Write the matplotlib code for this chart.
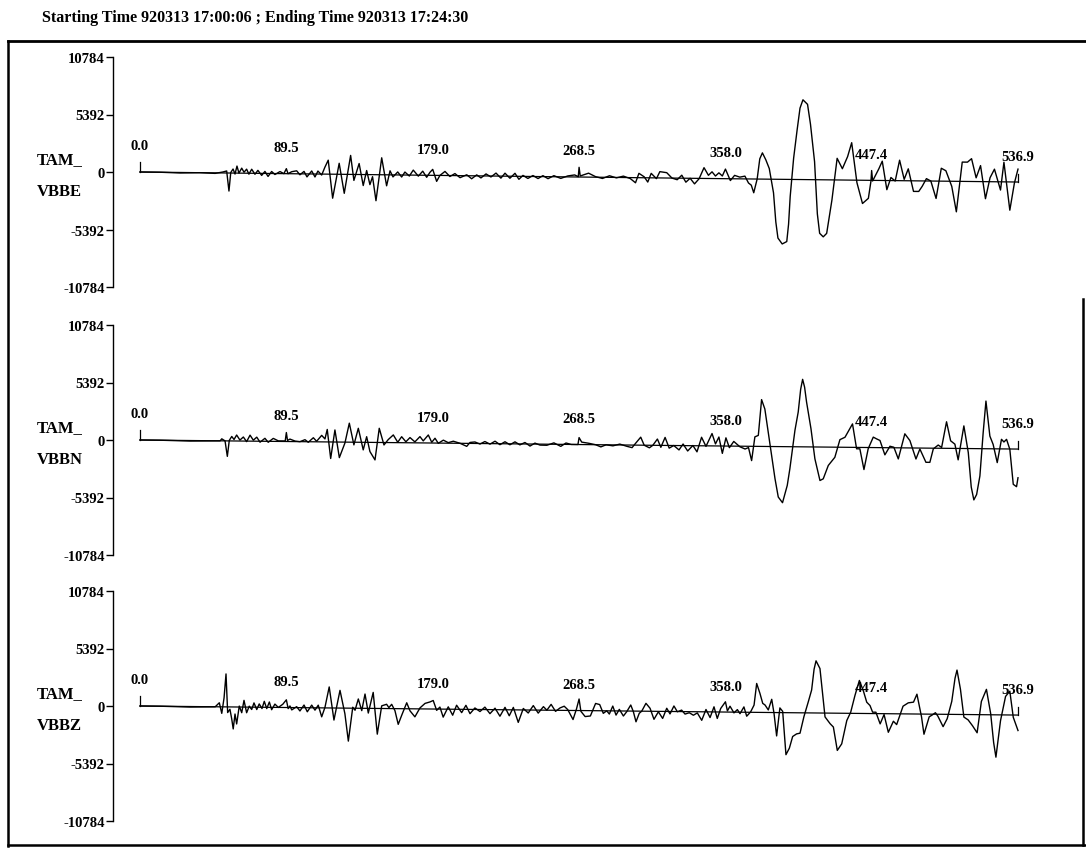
import matplotlib
matplotlib.use('Agg')
import matplotlib.pyplot as plt
from matplotlib.lines import Line2D
import numpy as np

plt.rcParams['font.family'] = ['Liberation Serif', 'DejaVu Serif']
plt.rcParams['font.weight'] = 'bold'

title = 'Starting Time 920313 17:00:06 ; Ending Time 920313 17:24:30'
stations = ['VBBE', 'VBBN', 'VBBZ']
full_scale = 10784
yticks = [-10784, -5392, 0, 5392, 10784]
time_marks = [0.0, 89.5, 179.0, 268.5, 358.0, 447.4, 536.9]
t_end = 536.9
# the pen baseline sags a little by the end of the record (counts)
baseline_drop = [940, 850, 850]

# (seconds, counts) picks along each trace
vbbe = [
    (0.0, 0), (12.2, 0), (24.5, -50), (36.7, 0), (45.9, -50), (50.7, 90),
    (53.0, 190), (54.4, -1690), (55.5, 50), (56.9, 380), (58.1, -90), (59.3, 660),
    (60.5, 0), (62.2, 470), (63.6, 90), (65.2, 380), (66.6, -90), (68.3, 380),
    (70.3, -90), (72.1, 280), (74.4, -190), (76.4, 190), (78.3, -280), (80.5, 190),
    (82.5, -90), (85.6, 190), (88.0, 0), (89.5, 470), (90.5, 0), (92.8, 190),
    (95.8, 280), (97.8, -90), (100.3, 230), (102.1, -280), (105.0, 280), (107.0, -280),
    (108.8, 280), (111.1, -90), (113.1, 660), (115.1, 1310), (117.8, -2250), (121.8, 1030),
    (124.9, -1780), (128.8, 1780), (130.8, -560), (134.0, 1030), (136.5, -1030), (138.6, 380),
    (140.6, -940), (142.2, -190), (144.3, -2440), (147.8, 1590), (150.8, -1030), (152.9, 380),
    (154.7, -190), (157.6, 280), (160.0, -190), (162.0, 280), (164.7, -90), (167.1, 470),
    (170.2, -90), (172.9, 380), (175.3, -190), (177.3, 280), (179.0, 560), (181.4, -560),
    (183.4, 0), (186.5, 380), (189.5, -90), (192.6, 190), (195.7, -190), (199.8, 90),
    (202.8, -280), (205.9, 90), (208.5, -190), (211.6, 190), (214.6, -90), (217.7, 280),
    (220.7, -190), (223.2, 280), (226.2, -190), (229.3, 280), (231.7, -280), (234.2, 90),
    (237.2, -190), (240.3, 90), (243.4, -190), (246.4, 90), (249.5, -190), (253.1, 100),
    (257.3, -150), (261.6, 90), (265.8, 190), (268.0, 30), (268.5, 910), (269.2, 100),
    (274.3, 370), (278.6, 50), (282.8, -110), (287.1, 150), (291.3, -40), (295.6, 130),
    (299.8, -90), (303.0, -480), (305.1, 410), (308.3, 90), (310.5, -400), (312.6, 420),
    (315.8, -70), (317.9, 590), (322.1, 500), (325.3, 0), (328.5, -150), (331.3, 280),
    (333.8, -370), (336.4, 0), (339.1, -520), (341.9, -30), (344.9, 1010), (347.6, 300),
    (349.8, 630), (351.9, 240), (354.0, 540), (356.1, 250), (358.0, 900), (361.0, -170),
    (363.6, 320), (366.8, 160), (369.9, 260), (372.1, -380), (373.8, -580), (375.3, -1290),
    (377.4, 10), (379.0, 1900), (380.6, 2460), (382.7, 1810), (384.8, 1000), (387.4, -1280),
    (388.8, -4000), (390.1, -5510), (392.7, -6060), (395.5, -5830), (396.6, -4200), (397.6, -1590),
    (399.7, 2000), (401.8, 4610), (403.6, 6700), (405.4, 7480), (408.2, 7060), (410.0, 5200),
    (412.5, 1690), (414.2, -3200), (415.6, -5020), (417.8, -5350), (419.9, -5020), (423.1, -1900),
    (426.3, 2030), (429.5, 1060), (432.7, 2200), (435.2, 3510), (438.4, -230), (441.8, -2180),
    (445.4, -1690), (447.0, -60), (447.4, 920), (448.0, -60), (451.8, 1090), (453.9, 1810),
    (456.7, -860), (459.2, 290), (461.8, -40), (464.5, 1920), (467.3, 130), (469.8, 1120),
    (473.0, -990), (476.2, -990), (478.3, -510), (480.9, 220), (483.6, 0), (486.8, -1630),
    (490.0, 1210), (492.8, 980), (496.4, -480), (499.2, -2860), (502.8, 1810), (506.0, 1810),
    (508.5, 2140), (511.3, 350), (514.0, 1500), (517.0, -1600), (519.8, 370), (522.5, 1180),
    (526.2, -770), (528.3, 1840), (531.9, -2650), (534.7, -100), (536.9, 1210),
]

vbbn = [
    (0.0, 0), (12.2, 0), (30.6, -50), (49.0, 0), (50.0, 190), (52.0, 0),
    (53.4, -1450), (54.6, 50), (56.1, 420), (57.5, 140), (59.1, 560), (61.1, 90),
    (63.2, 380), (65.2, -50), (67.3, 560), (69.3, 90), (71.4, 380), (73.4, -90),
    (76.4, 280), (78.4, -90), (81.5, 280), (84.6, 50), (88.8, 50), (89.5, 840),
    (90.2, 100), (91.7, 230), (94.8, 50), (97.8, 0), (100.9, 190), (102.9, -50),
    (106.0, 380), (108.0, 50), (111.1, 610), (113.1, 280), (114.5, 1170), (116.6, -1550),
    (119.2, 1130), (121.9, -1460), (125.3, -90), (128.0, 1780), (130.8, -250), (133.5, 1310),
    (136.5, -710), (138.6, 530), (140.6, -860), (143.7, -1640), (146.3, 1330), (149.2, -230),
    (151.8, 280), (154.9, 720), (157.6, 40), (160.0, 560), (162.6, 90), (165.1, 490),
    (168.1, 90), (171.2, 590), (173.2, 190), (176.3, 750), (178.4, 70), (180.4, 450),
    (182.4, -20), (185.5, 280), (188.5, 50), (191.6, 190), (195.7, 0), (199.8, -280),
    (201.8, 90), (204.8, 140), (207.9, -50), (210.9, 190), (214.0, -50), (217.1, 230),
    (220.1, -90), (223.2, 190), (226.2, -90), (229.3, 190), (232.3, -90), (235.4, 140),
    (238.5, -190), (241.5, 90), (244.6, -90), (248.8, -100), (253.1, 130), (257.3, -190),
    (260.5, 130), (263.7, 0), (267.8, 0), (268.5, 650), (270.1, 230), (274.3, 130),
    (278.6, 0), (281.8, -200), (285.0, 0), (289.2, -90), (293.4, 80), (297.7, -120),
    (300.9, -240), (303.0, 160), (306.2, 750), (308.3, 0), (311.5, -240), (313.6, 0),
    (316.4, 590), (318.5, -180), (321.1, 750), (323.6, -250), (326.4, 0), (329.6, -410),
    (332.1, 150), (334.9, -500), (338.1, 20), (340.6, -570), (343.4, 800), (346.1, -50),
    (349.8, 1160), (351.9, 190), (354.0, 840), (356.1, -690), (358.3, 770), (360.4, -150),
    (363.1, 440), (366.8, -50), (370.0, -260), (372.1, -120), (374.0, -1340), (376.0, 890),
    (378.1, 1030), (380.1, 4390), (382.1, 3510), (385.2, 270), (388.3, -3010), (390.3, -4730),
    (392.9, -5260), (395.8, -3630), (397.4, -2060), (400.5, 1540), (402.5, 3260), (404.0, 5400),
    (405.2, 6330), (406.4, 5600), (407.6, 4210), (410.3, 1710), (412.7, -1110), (415.8, -3140),
    (417.8, -2980), (420.9, -1720), (424.9, -950), (428.0, 710), (431.1, 940), (435.7, 2200),
    (438.2, -130), (440.2, -130), (442.7, -2070), (445.3, -110), (448.4, 980), (450.4, 820),
    (452.5, 670), (455.5, -670), (458.6, 140), (461.0, 50), (463.7, -1040), (467.7, 1320),
    (470.8, 690), (474.5, -1030), (476.9, -90), (480.6, -1330), (483.0, -1330), (485.1, -70),
    (488.1, 300), (490.2, 80), (493.2, 2490), (495.7, 710), (498.3, 400), (500.3, -1070),
    (503.8, 2120), (506.5, -380), (508.3, -3600), (509.9, -4810), (511.6, -4300), (513.6, -2560),
    (515.6, 1500), (517.3, 4470), (519.7, 1190), (521.7, 410), (524.2, -1290), (526.8, 900),
    (528.3, 650), (529.9, 900), (531.9, -30), (534.0, -3310), (536.0, -3530), (536.9, -2690),
]

vbbz = [
    (0.0, 0), (12.2, 0), (30.6, -50), (46.0, 0), (48.5, 380), (50.0, -610),
    (51.4, 840), (52.6, 3090), (53.6, -530), (55.0, -220), (56.1, -1130), (57.0, -2060),
    (58.1, -660), (59.1, -1590), (60.7, 90), (62.2, -530), (63.6, 630), (65.2, -530),
    (66.8, 90), (68.3, -220), (69.7, 400), (71.4, -220), (72.9, 310), (74.6, -120),
    (76.0, 560), (77.5, -120), (79.1, 500), (80.5, -220), (82.5, 310), (84.6, 0),
    (87.3, 300), (89.5, 720), (90.6, -100), (91.7, 150), (92.8, -220), (95.8, 90),
    (97.8, -310), (100.3, 250), (102.3, -380), (105.0, 250), (107.0, -220), (109.0, 250),
    (111.1, -840), (113.1, 50), (115.7, 1970), (118.6, -1130), (122.3, 1660), (125.3, -530),
    (127.4, -3090), (130.1, 90), (131.5, -190), (133.5, 870), (135.6, -220), (137.6, 1340),
    (139.6, -440), (142.6, 1500), (145.1, -2410), (147.8, 250), (150.8, 400), (152.2, 90),
    (153.9, 400), (155.9, -190), (157.9, -1470), (160.0, -630), (163.1, 560), (165.1, -190),
    (168.1, -750), (171.2, 90), (174.3, 520), (177.3, 660), (179.3, 800), (181.4, -120),
    (183.4, 190), (185.4, -750), (188.5, 220), (191.2, -560), (193.6, 380), (196.7, -310),
    (199.3, 380), (201.8, -400), (204.8, 140), (207.9, -190), (210.9, 230), (214.0, -380),
    (217.1, 140), (220.1, -610), (223.2, 230), (225.8, -560), (228.3, 230), (231.3, -1170),
    (234.4, 140), (237.4, -280), (240.5, 420), (243.5, -280), (246.7, 330), (248.8, 0),
    (251.4, 550), (254.1, -100), (256.9, 230), (259.4, 390), (261.6, 70), (264.8, -850),
    (266.9, 140), (268.5, 1080), (269.6, -70), (272.2, -560), (275.4, -500), (278.6, 680),
    (281.1, 580), (283.3, -240), (285.4, 0), (287.0, -300), (289.1, 450), (291.1, -390),
    (293.1, 150), (295.6, -470), (297.6, -70), (300.1, 570), (301.7, -60), (303.3, -1000),
    (305.3, -200), (306.8, 0), (309.4, 740), (311.9, 280), (314.3, -750), (317.0, -40),
    (319.6, -660), (322.1, 300), (324.1, -230), (326.5, 520), (328.6, -20), (331.2, 140),
    (333.3, -230), (335.9, -100), (338.4, -330), (340.8, -110), (343.5, -800), (346.1, 220),
    (348.6, -530), (351.0, 480), (353.0, -610), (355.1, 330), (358.0, 960), (359.2, 110),
    (360.8, 550), (363.2, -70), (365.3, 240), (366.9, -140), (369.3, 500), (371.0, -370),
    (373.4, 40), (375.5, 680), (377.1, 2710), (379.1, 1780), (380.8, 850), (382.2, 700),
    (384.2, 240), (386.3, 1240), (387.7, -70), (389.3, -2190), (391.3, 440), (393.0, 120),
    (395.0, -3940), (397.1, -3320), (399.1, -2230), (401.5, -1980), (403.6, -1910), (406.0, -350),
    (408.7, 1060), (410.7, 2150), (412.2, 4100), (413.4, 4890), (415.8, 4170), (417.4, 1800),
    (418.9, -360), (422.0, -990), (424.0, -1300), (426.4, -3490), (429.1, -2870), (432.2, -680),
    (434.6, 110), (437.2, 1680), (439.9, 3090), (442.4, 2090), (444.4, 1060), (446.4, 750),
    (448.0, 130), (450.0, 130), (452.6, -960), (455.0, -80), (457.6, -1740), (460.7, -700),
    (462.7, -1010), (466.6, 720), (469.8, 1040), (473.0, 1110), (475.1, 1860), (477.9, -260),
    (479.4, -1890), (482.6, -250), (484.3, -90), (486.4, 140), (487.9, -180), (491.1, -1160),
    (493.6, -410), (496.4, 1220), (498.4, 3400), (499.6, 4160), (501.7, 2370), (503.8, -240),
    (506.4, -500), (509.1, -1050), (511.9, -1700), (514.5, 1240), (517.6, 2380), (520.2, 100),
    (522.0, -2600), (523.4, -3970), (526.2, -550), (529.3, 1740), (531.9, 2230), (534.0, -210),
    (536.9, -1450),
]

traces = [vbbe, vbbn, vbbz]

W, H = 1086, 853
fig = plt.figure(figsize=(W / 100, H / 100), dpi=100)

# page layout in pixels
axis_x = 113
trace_x0, trace_x1 = 140, 1018
zero_rows = [173, 441, 707]
half_height = 115
px_per_s = (trace_x1 - trace_x0) / t_end
right_x = 1040


def fx(px):
    return px / W


def fy(py):
    return 1 - py / H


for i, (name, rec) in enumerate(zip(stations, traces)):
    y0 = zero_rows[i]
    ax = fig.add_axes([fx(axis_x), fy(y0 + half_height),
                       fx(right_x - axis_x), 2 * half_height / H])
    ax.set_facecolor('none')
    ax.set_xlim(-(trace_x0 - axis_x) / px_per_s, t_end + (right_x - trace_x1) / px_per_s)
    ax.set_ylim(-full_scale, full_scale)
    for s in ['top', 'right', 'bottom']:
        ax.spines[s].set_visible(False)
    ax.spines['left'].set_linewidth(1.0)
    ax.set_xticks([])
    ax.set_yticks(yticks)
    ax.set_yticklabels([str(v) for v in yticks])
    ax.tick_params(axis='y', direction='out', length=5, width=1, pad=1,
                   labelsize=10.5)
    for lab in ax.get_yticklabels():
        lab.set_fontweight('bold')

    t, a = np.array(rec, dtype=float).T
    drop = baseline_drop[i]
    slope = -drop / t_end
    ax.plot([0, t_end], [0, -drop], color='black', lw=0.9)
    ax.plot(t, a + slope * t, color='black', lw=1.0)
    # start and end pips on the record
    ax.plot([0, 0], [0, 940], color='black', lw=0.9)
    ax.plot([t_end, t_end], [-drop, -drop + 750], color='black', lw=0.9)

    for tm in time_marks:
        ax.text(tm, 2440 + slope * tm, f'{tm:.1f}', ha='center', va='center',
                fontsize=10.5, fontweight='bold')

    fig.text(fx(37), fy(y0 - 13), 'TAM_', ha='left', va='center',
             fontsize=12, fontweight='bold')
    fig.text(fx(37), fy(y0 + 19), name, ha='left', va='center',
             fontsize=12, fontweight='bold')

fig.text(fx(42), fy(18), title, ha='left', va='center', fontsize=11.5,
         fontweight='bold')

# page frame
frame = [
    ([8, 1086], [42, 42], 2.0),
    ([8, 8], [42, 847], 1.8),
    ([8, 1086], [846, 846], 1.8),
    ([1083, 1083], [300, 846], 1.8),
]
for xs, ys, lw in frame:
    fig.add_artist(Line2D([fx(x) for x in xs], [fy(y) for y in ys],
                          color='black', lw=lw, transform=fig.transFigure))

fig.savefig('out.png', dpi=100, facecolor='white')
